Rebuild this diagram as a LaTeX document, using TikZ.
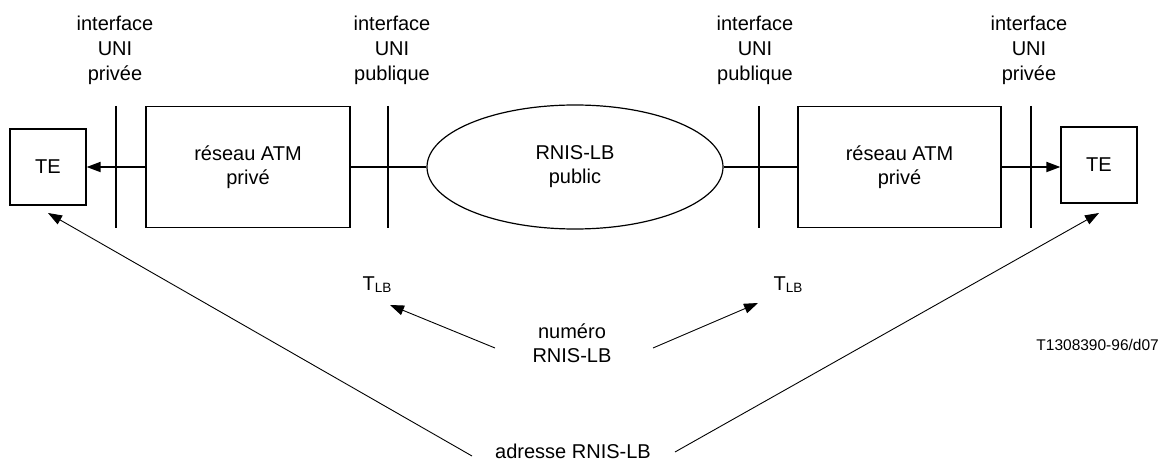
\documentclass[tikz,border=0pt]{standalone}
\usepackage{fontspec}
\setmainfont{Liberation Sans}
\usetikzlibrary{arrows.meta,shapes.geometric}
\begin{document}
\begin{tikzpicture}[x=1pt,y=-1pt,
  txt/.style={inner sep=0pt, align=center, font=\fontsize{20}{24}\selectfont},
  hdr/.style={inner sep=0pt, align=center, font=\fontsize{20}{25}\selectfont},
  boxn/.style={draw, line width=1.2pt, inner sep=0pt, align=center, font=\fontsize{20}{24}\selectfont},
  vline/.style={line width=1.4pt},
  hconn/.style={line width=1.8pt},
  dconn/.style={line width=0.9pt},
  tip/.style={-{Triangle[length=14pt,width=10pt]}},
]
\useasboundingbox (0,0) rectangle (1160,462);

% boxes
\node[boxn, minimum width=76pt, minimum height=76pt] (teL) at (48,167) {TE};
\node[boxn, minimum width=76pt, minimum height=76pt] (teR) at (1099,165) {TE};
\node[boxn, minimum width=204pt, minimum height=121pt] (atmL) at (248,167) {réseau ATM\\privé};
\node[boxn, minimum width=203pt, minimum height=121pt] (atmR) at (899.5,167) {réseau ATM\\privé};
\node[ellipse, draw, line width=1.2pt, inner sep=0pt, align=center,
      font=\fontsize{20}{24}\selectfont,
      minimum width=296pt, minimum height=124pt] (rnis) at (575,167) {RNIS-LB\\public};

% interface vertical lines
\coordinate (v1t) at (116,106); \coordinate (v1b) at (116,228);
\coordinate (v2t) at (388,106); \coordinate (v2b) at (388,228);
\coordinate (v3t) at (759,106); \coordinate (v3b) at (759,228);
\coordinate (v4t) at (1031,106); \coordinate (v4b) at (1031,228);
\draw[vline] (v1t) -- (v1b);
\draw[vline] (v2t) -- (v2b);
\draw[vline] (v3t) -- (v3b);
\draw[vline] (v4t) -- (v4b);

% header labels
\node[hdr] (h1) at (115,50) {interface\\UNI\\privée};
\node[hdr] (h2) at (392,50) {interface\\UNI\\publique};
\node[hdr] (h3) at (755,50) {interface\\UNI\\publique};
\node[hdr] (h4) at (1029,50) {interface\\UNI\\privée};

% horizontal connectors
\draw[hconn, tip] (atmL.west) -- (teL.east |- atmL.west);
\draw[hconn] (atmL.east) -- (rnis.west);
\draw[hconn] (rnis.east) -- (atmR.west);
\draw[hconn, tip] (atmR.east) -- (teR.west |- atmR.east);

% T_LB labels
\node[txt, anchor=base] (tlbL) at (377,291) {T\raisebox{-2pt}{\fontsize{13.5}{14}\selectfont LB}};
\node[txt, anchor=base] (tlbR) at (788,291) {T\raisebox{-2pt}{\fontsize{13.5}{14}\selectfont LB}};

% numero / adresse
\node[txt] (num) at (572,343.5) {numéro\\RNIS-LB};
\node[txt] (adr) at (573,451) {adresse RNIS-LB};

\coordinate (nL) at (495,348); \coordinate (nLt) at (390,305);
\coordinate (nR) at (653,348); \coordinate (nRt) at (758,303);
\draw[dconn, tip] (nL) -- (nLt);
\draw[dconn, tip] (nR) -- (nRt);

\coordinate (aL) at (472,456); \coordinate (aLt) at (48,213);
\coordinate (aR) at (675,452); \coordinate (aRt) at (1099,213);
\draw[dconn, tip] (aL) -- (aLt);
\draw[dconn, tip] (aR) -- (aRt);

% figure reference
\node[inner sep=0pt, anchor=east, font=\fontsize{15.5}{18}\selectfont] (ref) at (1159,345) {T1308390-96/d07};
\end{tikzpicture}
\end{document}
